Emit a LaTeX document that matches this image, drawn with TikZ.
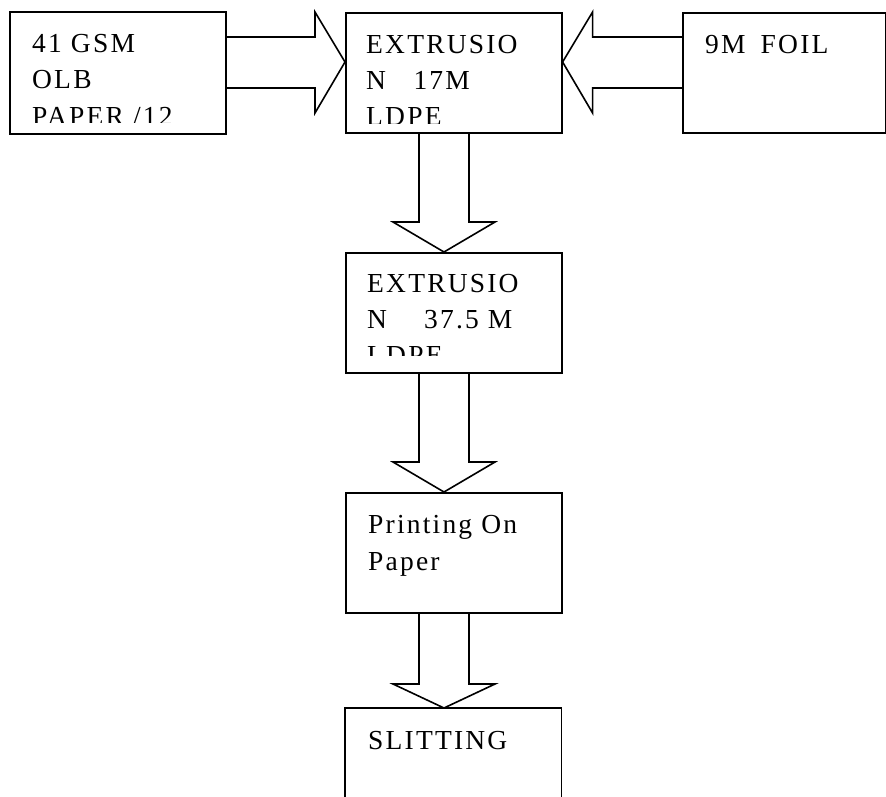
\documentclass[tikz,border=0pt]{standalone}
\usepackage{fontspec}
\setmainfont{Liberation Serif}[LetterSpace=8]
\usetikzlibrary{calc}

\tikzset{
  box/.style={draw, line width=1.6pt, rectangle, inner sep=0pt, anchor=north west,
              minimum width=216pt, minimum height=120pt},
  openbox/.style={rectangle, inner sep=0pt, anchor=north west,
              minimum width=216pt, minimum height=100pt},
  txt/.style={anchor=base west, inner sep=0pt, font=\fontsize{27.5}{32}\selectfont},
  fat/.style={draw, line width=1.6pt, line join=miter},
}

\begin{document}
\begin{tikzpicture}[x=1pt, y=-1pt]
  \useasboundingbox (0,0) rectangle (886,796);

  % process boxes
  \node[box, minimum height=122pt] (gsm) at (9,11) {};
  \node[box] (ext1) at (345,12) {};
  \node[box, minimum width=203pt] (foil) at (682,12) {};
  \node[box] (ext2) at (345,252) {};
  \node[box] (print) at (345,492) {};
  \node[openbox] (slit) at (345,708) {};
  \draw[line width=1.6pt] ($(slit.north west)+(0,92)$) -- (slit.north west)
        -- (slit.north east) -- ($(slit.north east)+(0,92)$);

  % box texts
  \node[txt] (gsm1) at ($(gsm.north west)+(23,41)$) {41 GSM};
  \node[txt] (gsm2) at ($(gsm.north west)+(23,77)$) {OLB};
  \begin{scope}
    \clip (gsm.north west) rectangle ($(gsm.south east)+(0,-12)$);
    \node[txt] (gsm3) at ($(gsm.north west)+(23,114)$) {PAPER /12};
  \end{scope}

  \node[txt] (ext1a) at ($(ext1.north west)+(21,41)$) {EXTRUSIO};
  \node[txt] (ext1b) at ($(ext1.north west)+(21,77)$) {N\hspace{1.0em}17M};
  \begin{scope}
    \clip (ext1.north west) rectangle ($(ext1.south east)+(0,-10)$);
    \node[txt] (ext1c) at ($(ext1.north west)+(21,113)$) {LDPE};
  \end{scope}

  \node[txt] (foila) at ($(foil.north west)+(23,41)$) {9M\hspace{0.55em}FOIL};

  \node[txt] (ext2a) at ($(ext2.north west)+(22,40)$) {EXTRUSIO};
  \node[txt] (ext2b) at ($(ext2.north west)+(22,76)$) {N\hspace{1.35em}37.5 M};
  \begin{scope}
    \clip (ext2.north west) rectangle ($(ext2.south east)+(0,-18)$);
    \node[txt] (ext2c) at ($(ext2.north west)+(22,112)$) {LDPE};
  \end{scope}

  \node[txt] (printa) at ($(print.north west)+(23,41)$) {Printing On};
  \node[txt] (printb) at ($(print.north west)+(23,78)$) {Paper};

  \node[txt] (slita) at ($(slit.north west)+(23,41)$) {SLITTING};

  % block arrow: paper into first extrusion
  \coordinate (t1) at ($(ext1.north west)+(0,50)$);
  \draw[fat] ($(gsm.north east)+(0,26)$) -- ($(t1)+(-30,-25)$) -- ($(t1)+(-30,-50)$)
        -- (t1) -- ($(t1)+(-30,51)$) -- ($(t1)+(-30,26)$) -- ($(gsm.north east)+(0,77)$);

  % block arrow: foil into first extrusion
  \coordinate (t2) at ($(ext1.north east)+(0,50)$);
  \draw[fat] ($(foil.north west)+(0,25)$) -- ($(t2)+(30,-25)$) -- ($(t2)+(30,-50)$)
        -- (t2) -- ($(t2)+(30,51)$) -- ($(t2)+(30,26)$) -- ($(foil.north west)+(0,76)$);

  % block arrow: first extrusion to second extrusion
  \coordinate (t3) at ($(ext2.north west)+(99,0)$);
  \draw[fat] ($(ext1.south west)+(74,0)$) -- ($(t3)+(-25,-30)$) -- ($(t3)+(-51,-30)$)
        -- (t3) -- ($(t3)+(51,-30)$) -- ($(t3)+(25,-30)$) -- ($(ext1.south west)+(124,0)$);

  % block arrow: second extrusion to printing
  \coordinate (t4) at ($(print.north west)+(99,0)$);
  \draw[fat] ($(ext2.south west)+(74,0)$) -- ($(t4)+(-25,-30)$) -- ($(t4)+(-51,-30)$)
        -- (t4) -- ($(t4)+(51,-30)$) -- ($(t4)+(25,-30)$) -- ($(ext2.south west)+(124,0)$);

  % block arrow: printing to slitting
  \coordinate (t5) at ($(slit.north west)+(99,0)$);
  \draw[fat] ($(print.south west)+(74,0)$) -- ($(t5)+(-25,-24)$) -- ($(t5)+(-51,-24)$)
        -- (t5) -- ($(t5)+(51,-24)$) -- ($(t5)+(25,-24)$) -- ($(print.south west)+(124,0)$);
\end{tikzpicture}
\end{document}
